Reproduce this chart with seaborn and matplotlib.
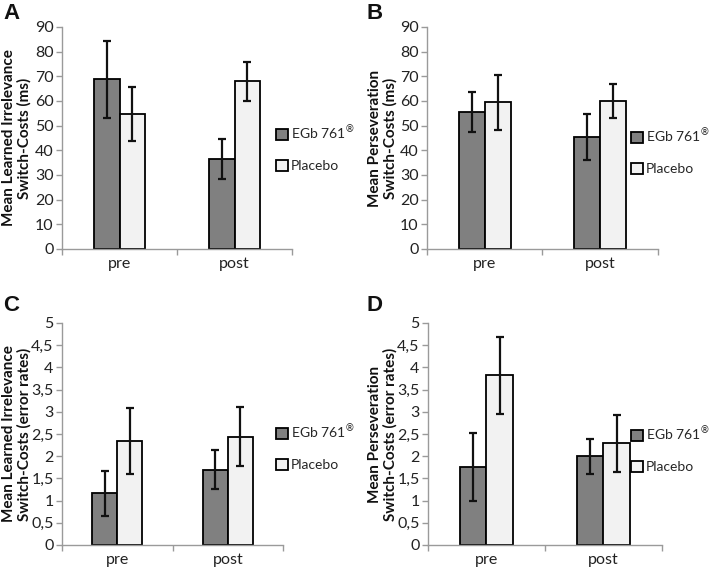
import matplotlib
matplotlib.use("Agg")
import matplotlib.pyplot as plt
import matplotlib.ticker as mticker
import numpy as np
import pandas as pd
import seaborn as sns

# ---------------- data ----------------
times = ["pre", "post"]
groups = ["EGb 761®", "Placebo"]
legend_labels = ["EGb 761$^{®}$", "Placebo"]

a_egb = [68.8, 36.5]
a_egb_err = [15.5, 8.0]
a_plc = [54.7, 68.0]
a_plc_err = [11.0, 8.0]

b_egb = [55.5, 45.5]
b_egb_err = [8.0, 9.3]
b_plc = [59.4, 60.0]
b_plc_err = [11.0, 6.7]

c_egb = [1.16, 1.70]
c_egb_err = [0.50, 0.43]
c_plc = [2.35, 2.44]
c_plc_err = [0.74, 0.67]

d_egb = [1.75, 2.00]
d_egb_err = [0.77, 0.39]
d_plc = [3.82, 2.29]
d_plc_err = [0.86, 0.64]

letters = ["A", "B", "C", "D"]
ylabels = [
    "Mean Learned Irrelevance\nSwitch-Costs (ms)",
    "Mean Perseveration\nSwitch-Costs (ms)",
    "Mean Learned Irrelevance\nSwitch-Costs (error rates)",
    "Mean Perseveration\nSwitch-Costs (error rates)",
]
ymax = [90, 90, 5, 5]
ystep = [10, 10, 0.5, 0.5]

panels = [
    (a_egb, a_egb_err, a_plc, a_plc_err),
    (b_egb, b_egb_err, b_plc, b_plc_err),
    (c_egb, c_egb_err, c_plc, c_plc_err),
    (d_egb, d_egb_err, d_plc, d_plc_err),
]

# ---------------- style ----------------
sns.set_theme(style="white")
plt.rcParams["font.family"] = ["Lato", "DejaVu Sans"]

W, H = 709, 567
fig = plt.figure(figsize=(W / 100, H / 100), dpi=100)

# axes rectangles in pixels: left, right, top, bottom
rects = [
    (62, 292, 27, 249),
    (427, 658, 27, 249),
    (62, 283, 323, 545),
    (428, 662, 323, 545),
]
legend_pos = [(276, 148), (631, 151), (276, 447), (631, 449)]
letter_pos = [(3, 3), (367, 3), (3, 295), (367, 295)]

palette = {"EGb 761®": "#808080", "Placebo": "#f2f2f2"}
grey = "#9a9a9a"

for i, (egb, egb_err, plc, plc_err) in enumerate(panels):
    l, r, t, b = rects[i]
    ax = fig.add_axes([l / W, 1 - b / H, (r - l) / W, (b - t) / H])

    df = pd.DataFrame({
        "time": times * 2,
        "group": [groups[0]] * 2 + [groups[1]] * 2,
        "value": list(egb) + list(plc),
        "err": list(egb_err) + list(plc_err),
    })
    sns.barplot(data=df, x="time", y="value", hue="group", order=times,
                hue_order=groups, palette=palette, edgecolor="black",
                linewidth=1.3, width=0.45, gap=0, errorbar=None, ax=ax,
                saturation=1)

    errs = [egb_err, plc_err]
    vals = [egb, plc]
    for ci, cont in enumerate(ax.containers[:2]):
        xs = [bar.get_x() + bar.get_width() / 2 for bar in cont]
        ax.errorbar(xs, vals[ci], yerr=errs[ci], fmt="none", ecolor="#111111",
                    elinewidth=1.6, capsize=3.2, capthick=1.6, zorder=5)

    handles, labels = ax.get_legend_handles_labels()
    if ax.get_legend() is not None:
        ax.get_legend().remove()
    lx, ly = legend_pos[i]
    ax.legend(handles[:2], legend_labels, loc="center left",
              bbox_to_anchor=(lx / W, 1 - ly / H),
              bbox_transform=fig.transFigure, frameon=False,
              handlelength=0.85, handleheight=0.85, handletextpad=0.2,
              labelspacing=1.3, borderpad=0, borderaxespad=0,
              fontsize=10)

    ax.set_xlim(-0.5, 1.5)
    ax.set_ylim(0, ymax[i])
    ax.set_yticks(np.arange(0, ymax[i] + ystep[i] / 2, ystep[i]))
    ax.yaxis.set_major_formatter(
        mticker.FuncFormatter(lambda v, p: ("%g" % v).replace(".", ",")))
    ax.set_xticks([0, 1])
    ax.set_xticklabels(times)
    ax.set_xticks([-0.5, 0.5, 1.5], minor=True)
    ax.tick_params(axis="x", which="major", length=0, pad=6,
                   labelsize=11.5, labelcolor="#222222")
    ax.tick_params(axis="x", which="minor", length=4, width=1, color=grey,
                   direction="out")
    ax.tick_params(axis="y", which="major", length=4, width=1, color=grey,
                   direction="out", pad=2, labelsize=11.5, labelcolor="#222222")
    ax.tick_params(bottom=True, left=True, which="both")

    for s in ["top", "right"]:
        ax.spines[s].set_visible(False)
    for s in ["left", "bottom"]:
        ax.spines[s].set_color(grey)
        ax.spines[s].set_linewidth(1)

    ax.set_xlabel("")
    ax.set_ylabel(ylabels[i], fontsize=11, fontweight="bold",
                  color="#111111", linespacing=1.1)
    label_right = 32 if i in (0, 2) else 398
    ax.yaxis.set_label_coords((label_right - l) / (r - l), 0.5)

    tx, ty = letter_pos[i]
    fig.text(tx / W, 1 - ty / H, letters[i], ha="left", va="top",
             fontsize=16, fontweight="bold",
             family=["Liberation Sans", "DejaVu Sans"], color="#111111")

fig.savefig("out.png", dpi=100)
